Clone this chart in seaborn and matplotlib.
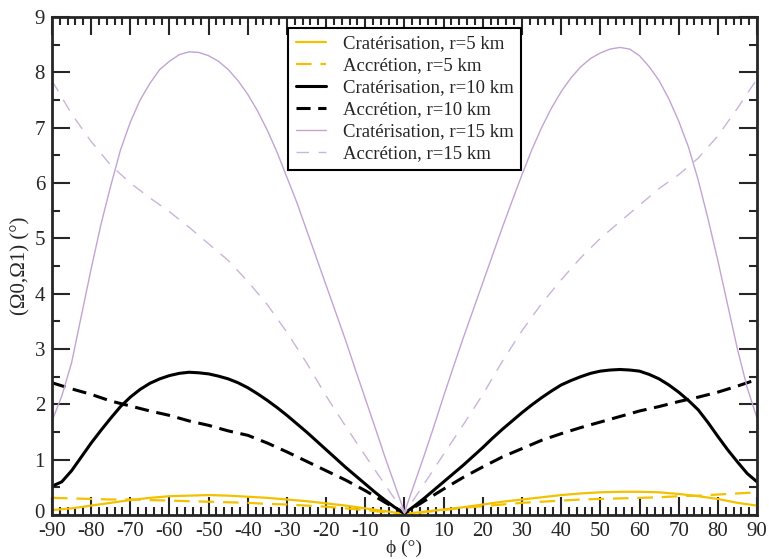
import numpy as np
import pandas as pd
import matplotlib
matplotlib.use("Agg")
import matplotlib.pyplot as plt
import matplotlib.transforms as mtransforms
import seaborn as sns
from matplotlib.ticker import MultipleLocator

# x positions (degrees)
phi_coarse = [-90, -85, -80, -75, -70, -65, -60, -55, -50, -45, -40, -35, -30, -25, -20, -15, -10, -5, 0,
              5, 10, 15, 20, 25, 30, 35, 40, 45, 50, 55, 60, 65, 70, 75, 80, 85, 90]
phi_fine = [float(v) for v in np.arange(-90, 90.01, 2.5)]

crat_r5 = [0.09, 0.12, 0.17, 0.22, 0.27, 0.31, 0.34, 0.35, 0.36, 0.35, 0.33, 0.31, 0.28, 0.25, 0.21, 0.17, 0.12, 0.07, 0.02,
           0.06, 0.10, 0.14, 0.19, 0.24, 0.28, 0.32, 0.36, 0.39, 0.41, 0.42, 0.42, 0.41, 0.38, 0.34, 0.29, 0.22, 0.17]
acc_r5 = [0.31, 0.30, 0.29, 0.28, 0.28, 0.27, 0.26, 0.25, 0.24, 0.23, 0.22, 0.20, 0.19, 0.17, 0.15, 0.12, 0.09, 0.05, 0.01,
          0.05, 0.09, 0.13, 0.16, 0.19, 0.22, 0.24, 0.26, 0.28, 0.29, 0.30, 0.31, 0.32, 0.34, 0.35, 0.37, 0.39, 0.41]
crat_r10 = [0.52, 0.60, 0.80, 1.05, 1.30, 1.53, 1.75, 1.96, 2.13, 2.27, 2.38, 2.46, 2.52, 2.56, 2.58, 2.57, 2.55, 2.51,
            2.46, 2.39, 2.30, 2.19, 2.07, 1.94, 1.80, 1.65, 1.50, 1.34, 1.18, 1.02, 0.86, 0.71, 0.56, 0.41, 0.27, 0.14,
            0.03,
            0.16, 0.30, 0.45, 0.60, 0.75, 0.90, 1.06, 1.22, 1.39, 1.55, 1.70, 1.85, 1.99, 2.12, 2.24, 2.35, 2.43,
            2.50, 2.56, 2.60, 2.62, 2.63, 2.62, 2.60, 2.54, 2.46, 2.35, 2.22, 2.07, 1.90, 1.67, 1.42, 1.18, 0.96,
            0.75, 0.60]
acc_r10 = [2.39, 2.28, 2.18, 2.06, 1.97, 1.88, 1.80, 1.70, 1.62, 1.52, 1.44, 1.30, 1.14, 0.97, 0.80, 0.63, 0.44, 0.23, 0.03,
           0.25, 0.47, 0.68, 0.87, 1.05, 1.20, 1.35, 1.47, 1.58, 1.68, 1.78, 1.88, 1.96, 2.05, 2.13, 2.22, 2.33, 2.45]
crat_r15 = [1.70, 2.15, 2.75, 3.60, 4.45, 5.25, 5.95, 6.60, 7.10, 7.50, 7.80, 8.05, 8.20, 8.32, 8.37, 8.36, 8.30, 8.20,
            8.05, 7.85, 7.60, 7.30, 6.95, 6.55, 6.10, 5.65, 5.15, 4.65, 4.15, 3.65, 3.15, 2.62, 2.10, 1.58, 1.05, 0.55,
            0.05,
            0.56, 1.07, 1.60, 2.15, 2.68, 3.20, 3.70, 4.20, 4.70, 5.20, 5.68, 6.15, 6.60, 7.00, 7.35, 7.65, 7.90,
            8.10, 8.25, 8.35, 8.42, 8.45, 8.42, 8.30, 8.10, 7.85, 7.52, 7.12, 6.65, 6.05, 5.35, 4.60, 3.80, 3.00,
            2.30, 1.75]
acc_r15 = [7.85, 7.25, 6.75, 6.32, 6.00, 5.73, 5.48, 5.20, 4.90, 4.60, 4.22, 3.80, 3.30, 2.75, 2.15, 1.60, 1.07, 0.55, 0.03,
           0.56, 1.10, 1.63, 2.18, 2.78, 3.33, 3.82, 4.25, 4.65, 5.00, 5.30, 5.60, 5.90, 6.15, 6.45, 6.85, 7.35, 7.88]

labels = ["Cratérisation, r=5 km", "Accrétion, r=5 km",
          "Cratérisation, r=10 km", "Accrétion, r=10 km",
          "Cratérisation, r=15 km", "Accrétion, r=15 km"]
series = [(phi_coarse, crat_r5), (phi_coarse, acc_r5), (phi_fine, crat_r10),
          (phi_coarse, acc_r10), (phi_fine, crat_r15), (phi_coarse, acc_r15)]

sns.set_style("ticks")
plt.rcParams['font.family'] = ['Liberation Serif', 'DejaVu Serif']
plt.rcParams['axes.unicode_minus'] = False

fig = plt.figure(figsize=(7.69, 5.59), dpi=100)
ax = fig.add_axes([0.0676, 0.0787, 0.9168, 0.8909])

styles = [
    dict(color="#f2c200", lw=1.6, dashes=None),
    dict(color="#f2c200", lw=1.6, dashes=(7, 4)),
    dict(color="black", lw=2.2, dashes=None),
    dict(color="black", lw=2.2, dashes=(4.6, 2.5)),
    dict(color="#c2a4d2", lw=1.0, dashes=None),
    dict(color="#cab4d8", lw=1.0, dashes=(9, 7)),
]

for lab, (xs, vals), st in zip(labels, series, styles):
    df = pd.DataFrame({"phi": xs, "val": vals})
    sns.lineplot(data=df, x="phi", y="val", ax=ax, color=st["color"],
                 linewidth=st["lw"], label=lab, sort=True)
    ln = ax.get_lines()[-1]
    if st["dashes"] is not None:
        ln.set_dashes(st["dashes"])

ax.set_xlim(-90, 90)
ax.set_ylim(0, 9)
ax.xaxis.set_major_locator(MultipleLocator(10))
ax.xaxis.set_minor_locator(MultipleLocator(2))
ax.yaxis.set_major_locator(MultipleLocator(1))
ax.yaxis.set_minor_locator(MultipleLocator(0.5))
ax.tick_params(which="both", direction="in", top=True, right=True, labelsize=15, width=1.5)
ax.tick_params(axis="x", pad=5)
ax.tick_params(axis="y", pad=5)
ax.tick_params(which="major", length=13)
ax.tick_params(which="minor", length=6)
for sp in ax.spines.values():
    sp.set_linewidth(2)

ax.set_xlabel("ϕ (°)", fontsize=14, labelpad=-1)
ax.set_ylabel("(Ω0,Ω1) (°)", fontsize=15, labelpad=3)

leg = ax.legend(loc="upper left", bbox_to_anchor=(0.335, 0.978), borderaxespad=0,
                fontsize=13.5, frameon=True,
                fancybox=False, edgecolor="black", framealpha=1, handlelength=1.6,
                borderpad=0.4, labelspacing=0.26, handletextpad=0.9)
leg.get_frame().set_linewidth(1.5)

# lift the "0" y tick label slightly, as in the reference, so it clears "-90"
fig.canvas.draw()
tick0 = ax.yaxis.get_major_ticks()
for t in tick0:
    if abs(t.get_loc()) < 1e-9:
        t.label1.set_transform(t.label1.get_transform() +
                               mtransforms.ScaledTranslation(0, 4 / 100, fig.dpi_scale_trans))

fig.savefig("out.png", dpi=100)
